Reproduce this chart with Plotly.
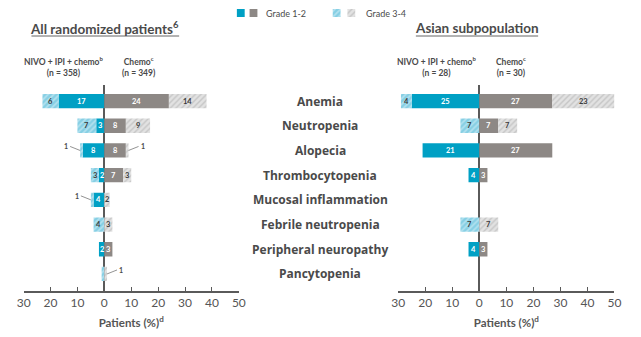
import plotly.graph_objects as go

# ---- data -------------------------------------------------------------
categories = [
    "Anemia", "Neutropenia", "Alopecia", "Thrombocytopenia",
    "Mucosal inflammation", "Febrile neutropenia",
    "Peripheral neuropathy", "Pancytopenia",
]

# All randomized patients (% of patients)
all_nivo_g12 = [17, 3, 8, 2, 4, 0, 2, 0]
all_nivo_g34 = [6, 7, 1, 3, 1, 4, 0, 1]
all_chemo_g12 = [24, 8, 8, 7, 0, 0, 3, 0]
all_chemo_g34 = [14, 9, 1, 3, 2, 3, 0, 1]

# Asian subpopulation (% of patients)
asian_nivo_g12 = [25, 0, 21, 4, 0, 0, 4, 0]
asian_nivo_g34 = [4, 7, 0, 0, 0, 7, 0, 0]
asian_chemo_g12 = [27, 7, 27, 3, 0, 0, 3, 0]
asian_chemo_g34 = [23, 7, 0, 0, 0, 7, 0, 0]

tick_vals = [-30, -20, -10, 0, 10, 20, 30, 40, 50]
tick_text = ["30", "20", "10", "0", "10", "20", "30", "40", "50"]

# small values labelled outside the bar with a leader line
callouts = [
    ("all", "Alopecia", "nivo_g34"),
    ("all", "Alopecia", "chemo_g34"),
    ("all", "Mucosal inflammation", "nivo_g34"),
    ("all", "Pancytopenia", "chemo_g34"),
]

# ---- styles -----------------------------------------------------------
TEAL = "#00A0C4"
GRAY = "#8D8885"
TEAL_HATCH_BG = "#86CFE4"
TEAL_HATCH_FG = "#E2F4F9"
GRAY_HATCH_BG = "#E2E2E2"
GRAY_HATCH_FG = "#A9A9A9"
TEXT = "#4A4A4A"
AXIS = "#5A5A5A"
FONT = "Lato"
LABEL_FONT = "Open Sans"

W, H = 641, 337


def px_x(p):
    return p / W


def px_y(p):
    return 1 - p / H


def style(kind):
    if kind == "teal":
        return dict(color=TEAL, line=dict(width=0)), "white"
    if kind == "gray":
        return dict(color=GRAY, line=dict(width=0)), "white"
    if kind == "teal_hatch":
        return dict(color=TEAL_HATCH_BG, line=dict(width=0),
                    pattern=dict(shape="/", fgcolor=TEAL_HATCH_FG,
                                 bgcolor=TEAL_HATCH_BG, size=4,
                                 solidity=0.4)), "#3A3A3A"
    return dict(color=GRAY_HATCH_BG, line=dict(width=0),
                pattern=dict(shape="/", fgcolor=GRAY_HATCH_FG,
                             bgcolor=GRAY_HATCH_BG, size=4,
                             solidity=0.35)), "#3A3A3A"


panels = {
    "all": dict(xa="x", ya="y", series={
        "nivo_g12": all_nivo_g12, "nivo_g34": all_nivo_g34,
        "chemo_g12": all_chemo_g12, "chemo_g34": all_chemo_g34}),
    "asian": dict(xa="x2", ya="y2", series={
        "nivo_g12": asian_nivo_g12, "nivo_g34": asian_nivo_g34,
        "chemo_g12": asian_chemo_g12, "chemo_g34": asian_chemo_g34}),
}

# series -> (fill style, direction, series stacked underneath)
series_kind = {
    "nivo_g12": ("teal", -1, None),
    "nivo_g34": ("teal_hatch", -1, "nivo_g12"),
    "chemo_g12": ("gray", 1, None),
    "chemo_g34": ("gray_hatch", 1, "chemo_g12"),
}

fig = go.Figure()
annotations = []

for pname, panel in panels.items():
    for sname, (kind, sign, under) in series_kind.items():
        vals = panel["series"][sname]
        marker, tcolor = style(kind)
        fig.add_trace(go.Bar(
            y=categories,
            x=[sign * v for v in vals],
            orientation="h",
            marker=marker,
            xaxis=panel["xa"], yaxis=panel["ya"],
            showlegend=False, hoverinfo="skip",
        ))
        # value labels centred in each segment
        base = panel["series"][under] if under else [0] * len(vals)
        for cat, v, b in zip(categories, vals, base):
            if v >= 2:
                annotations.append(dict(
                    x=sign * (b + v / 2), y=cat,
                    xref=panel["xa"], yref=panel["ya"],
                    text=str(v), showarrow=False,
                    xanchor="center", yanchor="middle",
                    font=dict(family=FONT, size=7.5, color=tcolor,
                              weight=700),
                ))

# leader-line labels for 1% bars
for pname, cat, sname in callouts:
    panel = panels[pname]
    i = categories.index(cat)
    sign = series_kind[sname][1]
    arm = sname.split("_")[0]
    end = panel["series"][arm + "_g12"][i] + panel["series"][arm + "_g34"][i]
    annotations.append(dict(
        x=sign * end, y=cat, xref=panel["xa"], yref=panel["ya"],
        text=str(panel["series"][sname][i]),
        showarrow=True, arrowhead=0, arrowwidth=0.8, arrowcolor="#777",
        ax=sign * 10, ay=-4, standoff=0,
        font=dict(family=FONT, size=7, color=TEXT, weight=700),
        xanchor="right" if sign < 0 else "left",
    ))

# category names between the two panels
for cat in categories:
    annotations.append(dict(
        x=px_x(320), y=cat, xref="paper", yref="y", showarrow=False,
        text=cat,
        font=dict(family=LABEL_FONT, size=12, color=TEXT, weight=700),
        xanchor="center", yanchor="middle",
    ))

# panel titles and arm headers
header_font = dict(family=FONT, size=8.5, color=TEXT, weight=700)
for cx, txt in [(100, "All randomized patients<sup>6</sup>"),
                (480, "Asian subpopulation")]:
    annotations.append(dict(
        x=px_x(cx), y=px_y(28), xref="paper", yref="paper",
        showarrow=False, text=txt, xanchor="center", yanchor="middle",
        font=dict(family=FONT, size=13.5, color=TEXT, weight=700)))
for cx, txt in [(58, "NIVO + IPI + chemo<sup>b</sup><br>(n = 358)"),
                (135, "Chemo<sup>c</sup><br>(n = 349)"),
                (440, "NIVO + IPI + chemo<sup>b</sup><br>(n = 28)"),
                (515, "Chemo<sup>c</sup><br>(n = 30)")]:
    annotations.append(dict(
        x=px_x(cx), y=px_y(66), xref="paper", yref="paper",
        showarrow=False, text=txt, xanchor="center", yanchor="middle",
        align="center", font=header_font))

# legend text
for lx, txt in [(263, "Grade 1-2"), (365, "Grade 3-4")]:
    annotations.append(dict(
        x=px_x(lx), y=px_y(13), xref="paper", yref="paper",
        showarrow=False, text=txt, xanchor="left", yanchor="middle",
        font=dict(family=FONT, size=9, color=TEXT)))

# legend swatches drawn on a helper axis measured in pixels
legend_keys = [(239, "teal"), (252, "gray"), (337, "teal_hatch"), (352, "gray_hatch")]
for kx, kind in legend_keys:
    marker, _ = style(kind)
    fig.add_trace(go.Bar(
        x=[kx], y=[1], width=[8], marker=marker,
        xaxis="x3", yaxis="y3", showlegend=False, hoverinfo="skip"))

shapes = [
    dict(type="line", xref="paper", yref="paper",
         x0=px_x(25), x1=px_x(176), y0=px_y(36), y1=px_y(36),
         line=dict(color="#666", width=1)),
    dict(type="line", xref="paper", yref="paper",
         x0=px_x(418), x1=px_x(543), y0=px_y(36), y1=px_y(36),
         line=dict(color="#666", width=1)),
]

y_dom = [px_y(291), px_y(85)]
y_range = [7.69, -0.65]

xaxis_common = dict(
    range=[-30, 50], tickvals=tick_vals, ticktext=tick_text,
    showgrid=False, zeroline=True, zerolinecolor=AXIS, zerolinewidth=1.5,
    showline=True, linecolor=AXIS, linewidth=1.5,
    ticks="inside", ticklen=4, tickcolor=AXIS, tickwidth=1.2,
    tickfont=dict(family=FONT, size=12, color="#555"),
    title=dict(text="Patients (%)<sup>d</sup>", standoff=10,
               font=dict(family=FONT, size=11.5, color="#555", weight=700)),
    fixedrange=True,
)
yaxis_common = dict(
    range=y_range, domain=y_dom, showticklabels=False, showgrid=False,
    zeroline=False, showline=False, ticks="",
    categoryorder="array", categoryarray=categories,
)

fig.update_layout(
    width=W, height=H,
    margin=dict(l=0, r=0, t=0, b=0),
    paper_bgcolor="white", plot_bgcolor="white",
    barmode="relative", bargap=0.42,
    xaxis=dict(domain=[px_x(17), px_x(237)], anchor="y", **xaxis_common),
    yaxis=dict(anchor="x", **yaxis_common),
    xaxis2=dict(domain=[px_x(400), px_x(621)], anchor="y2", **xaxis_common),
    yaxis2=dict(anchor="x2", **yaxis_common),
    xaxis3=dict(domain=[0, 1], range=[0, W], visible=False, anchor="y3"),
    yaxis3=dict(domain=[px_y(17), px_y(9)], range=[0, 1], visible=False,
                anchor="x3"),
    annotations=annotations,
    shapes=shapes,
    font=dict(family=FONT, color=TEXT),
)

fig.write_html("out.html")
